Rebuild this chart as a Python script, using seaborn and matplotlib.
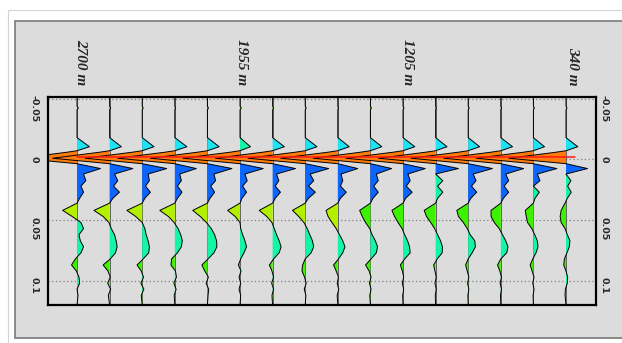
import numpy as np
import pandas as pd
import matplotlib
matplotlib.use('Agg')
import matplotlib.pyplot as plt
import seaborn as sns
from matplotlib.patches import Rectangle
from matplotlib.transforms import blended_transform_factory

# time samples (s) shared by all traces
times = [-0.052, -0.044, -0.0425, -0.041, -0.018, -0.0105, -0.0072, -0.006, -0.001,
         0.0035, 0.0075, 0.012, 0.0175, 0.022, 0.027, 0.032, 0.036, 0.042, 0.047,
         0.052, 0.057, 0.062, 0.067, 0.072, 0.077, 0.082, 0.087, 0.092, 0.097,
         0.102, 0.107, 0.112, 0.12]

# trace amplitudes, in units of trace spacing (trace 1 = far offset)
wiggles = [
    [0, 0, 0.04, 0, 0, 0.38, 0, -0.3, -1.75, 0, 0.72, 0.2, 0.27, 0.12, 0.2, 0.08, 0, -0.44, -0.15, 0.12, 0.2, 0.06, 0.1, 0.2, 0.12, -0.05, -0.17, -0.02, 0.06, 0.08, 0.0, 0.03, 0],
    [0, 0, 0.03, 0, 0, 0.36, 0, -0.3, -1.75, 0, 0.71, 0.15, 0.25, 0.12, 0.3, 0.1, 0, -0.48, -0.2, -0.02, 0.05, 0.15, 0.2, 0.23, 0.18, 0.02, -0.2, -0.05, 0.02, -0.06, 0.03, -0.04, 0],
    [0, 0, 0.03, 0, 0, 0.36, 0, -0.3, -1.75, 0, 0.75, 0.18, 0.22, 0.1, 0.25, 0.08, 0, -0.47, -0.2, 0.0, 0.08, 0.12, 0.18, 0.22, 0.2, 0.03, -0.16, -0.03, 0.04, -0.04, 0.05, -0.03, 0],
    [0, 0, 0.02, 0, 0, 0.37, 0, -0.3, -1.75, 0, 0.66, 0.15, 0.2, 0.08, 0.22, 0.08, 0, -0.46, -0.2, -0.02, 0.1, 0.18, 0.23, 0.2, 0.08, -0.1, -0.12, 0.02, 0.05, -0.03, 0.04, -0.02, 0],
    [0, 0, 0.03, 0, 0, 0.36, 0, -0.3, -1.75, 0, 0.75, 0.2, 0.25, 0.1, 0.22, 0.08, 0, -0.45, -0.22, -0.03, 0.12, 0.22, 0.28, 0.29, 0.2, 0.02, -0.17, -0.08, 0.03, -0.04, 0.04, 0.02, 0],
    [0, 0, 0.04, 0, 0, 0.32, 0, -0.3, -1.75, 0, 0.71, 0.15, 0.22, 0.08, 0.2, 0.06, 0, -0.38, -0.15, 0.0, 0.02, 0.08, 0.15, 0.2, 0.12, 0.02, -0.05, 0.03, -0.03, 0.02, -0.03, 0.02, 0],
    [0, 0, 0.03, 0, 0, 0.36, 0, -0.3, -1.75, 0, 0.7, 0.12, 0.19, 0.08, 0.24, 0.08, 0, -0.41, -0.18, -0.02, 0.05, 0.12, 0.2, 0.26, 0.2, 0.03, -0.1, -0.02, 0.03, -0.03, 0.03, -0.02, 0],
    [0, 0, 0.03, 0, 0, 0.36, 0, -0.3, -1.75, 0, 0.72, 0.15, 0.26, 0.1, 0.31, 0.1, 0, -0.39, -0.2, -0.04, 0.06, 0.14, 0.22, 0.26, 0.18, 0.0, -0.08, -0.1, -0.02, 0.03, -0.03, 0.02, 0],
    [0, 0, 0.02, 0, 0, 0.35, 0, -0.3, -1.75, 0, 0.61, 0.1, 0.15, 0.08, 0.26, 0.08, 0, -0.36, -0.3, -0.18, -0.05, 0.05, 0.15, 0.22, 0.15, 0.02, -0.13, -0.05, 0.02, -0.02, 0.03, -0.02, 0],
    [0, 0, 0.03, 0, 0, 0.35, 0, -0.3, -1.75, 0, 0.65, 0.18, 0.24, 0.1, 0.24, 0.08, 0, -0.33, -0.25, -0.15, -0.02, 0.05, 0.15, 0.22, 0.18, 0.02, -0.15, -0.04, 0.02, -0.03, 0.02, -0.02, 0],
    [0, 0, 0.03, 0, 0, 0.36, 0, -0.3, -1.75, 0, 0.68, 0.15, 0.22, 0.1, 0.28, 0.08, 0, -0.34, -0.26, -0.15, -0.03, 0.05, 0.14, 0.2, 0.22, 0.05, -0.08, -0.02, 0.02, -0.02, 0.02, -0.01, 0],
    [0, 0, 0.02, 0, 0, 0.35, 0, -0.3, -1.75, 0, 0.7, 0.0, 0.22, 0.06, 0.22, 0.06, 0, -0.35, -0.28, -0.15, -0.03, 0.06, 0.15, 0.21, 0.2, 0.05, -0.06, -0.02, 0.02, -0.02, 0.02, -0.01, 0],
    [0, 0, 0.03, 0, 0, 0.35, 0, -0.3, -1.75, 0, 0.74, 0.15, 0.24, 0.1, 0.26, 0.08, 0, -0.35, -0.3, -0.15, -0.03, 0.06, 0.2, 0.22, 0.12, 0.0, -0.08, -0.03, 0.02, -0.02, 0.02, -0.01, 0],
    [0, 0, 0.02, 0, 0, 0.36, 0, -0.3, -1.75, 0, 0.7, 0.15, 0.24, 0.1, 0.24, 0.08, 0, -0.3, -0.3, -0.2, -0.05, 0.05, 0.15, 0.22, 0.18, 0.0, -0.1, -0.03, 0.02, -0.02, 0.02, -0.01, 0],
    [0, 0, 0.03, 0, 0, 0.34, 0, -0.3, -1.75, 0, 0.72, 0.12, 0.2, 0.0, 0.18, 0.05, 0, -0.25, -0.22, -0.18, -0.05, 0.04, 0.12, 0.14, 0.08, -0.02, -0.1, -0.04, 0.02, -0.02, 0.02, -0.01, 0],
    [0, 0, 0.03, 0, 0, 0.36, 0, -0.3, -1.75, 0, 0.66, 0.0, 0.15, 0.05, 0.16, 0.04, -0.03, -0.15, -0.18, -0.15, -0.03, 0.04, 0.12, 0.1, 0.03, -0.05, -0.07, 0.0, 0.05, 0.04, -0.02, -0.03, 0],
]

# time where the blue first-arrival colouring gives way to teal, per trace
blue_end = [0.036] * 11 + [0.012, 0.036, 0.036, 0.022, 0.012]

trace_labels = ['2700 m', '1955 m', '1205 m', '340 m']
label_pos = [1.1, 6.06, 11.15, 16.2]
time_ticks = [-0.05, 0, 0.05, 0.1]
time_tick_labels = ['-0.05', '0', '0.05', '0.1']

CYAN = '#1ee3f2'
ORANGE = '#ff7b0a'
BLUE = '#0a66ff'
CHART = '#b2f000'
GREEN = '#3cf200'
TEAL = '#14f5a5'

sns.set_style('white')

fig = plt.figure(figsize=(6.22, 3.43), dpi=100)
fig.patch.set_facecolor('white')
# page frame and grey panel
fig.patches.append(Rectangle((0.0129, -0.05), 1.1, 1.0208, transform=fig.transFigure,
                             facecolor='white', edgecolor='#d4d4d4', lw=0.8, zorder=-3))
fig.patches.append(Rectangle((0.0241, 0.0146), 1.1, 0.9242, transform=fig.transFigure,
                             facecolor='#dcdcdc', edgecolor='#7a7a7a', lw=1.2, zorder=-2))

ax = fig.add_axes([0.0772, 0.1108, 0.881, 0.6064])
ax.set_facecolor('#dcdcdc')

t = np.array(times)
positions = np.arange(1, len(wiggles) + 1)

for i, (pos, amps) in enumerate(zip(positions, wiggles)):
    a = np.array(amps)
    x = pos + a
    pos_m = a >= 0
    neg_m = a <= 0
    pre_col = TEAL if i == 5 else CYAN
    mid_col = CHART if i < 9 else GREEN
    fills = [
        (pos_m & (t < -0.03), GREEN),
        (pos_m & (t > -0.03) & (t < -0.005), pre_col),
        (neg_m & (t < 0.02), ORANGE),
        (pos_m & (t > -0.002) & (t <= blue_end[i]), BLUE),
        (pos_m & (t >= blue_end[i]), TEAL),
        (neg_m & (t >= 0.02) & (t <= 0.058), mid_col),
        (neg_m & (t >= 0.058), GREEN),
    ]
    ax.axvline(pos, color='#505050', lw=0.6, zorder=1)
    for mask, col in fills:
        ax.fill_betweenx(t, pos, x, where=mask, interpolate=True,
                         facecolor=col, edgecolor='none', lw=0, zorder=2)
    df = pd.DataFrame({'x': x, 't': t})
    sns.lineplot(data=df, x='x', y='t', orient='y', sort=False, estimator=None,
                 color='black', lw=0.7, ax=ax, zorder=3)

# red marker through the direct-arrival troughs
t_tip = times[int(np.argmin(wiggles[0]))]
ax.plot([positions[0], positions[-1] + 0.27], [t_tip - 0.0008] * 2,
        color='#ff1a1a', lw=1.1, zorder=3.5)

ax.set_xlim(0.11, 16.92)
ax.set_ylim(0.12, -0.0515)
ax.set_xlabel('')
ax.set_ylabel('')
ax.set_xticks([])
ax.set_yticks(time_ticks)
ax.set_yticklabels(time_tick_labels, rotation=270, fontsize=6.8, fontweight='bold',
                   family='DejaVu Sans')
ax.tick_params(axis='y', length=0, pad=7)
ax.yaxis.grid(True, linestyle=(0, (1, 2)), color='#808080', lw=0.9, zorder=0.5)
ax.xaxis.grid(False)
ax.set_axisbelow(True)
for sp in ax.spines.values():
    sp.set_color('black')
    sp.set_linewidth(1.6)
    sp.set_zorder(5)

sec = ax.secondary_yaxis('right')
sec.set_yticks(time_ticks)
sec.set_yticklabels(time_tick_labels, rotation=270, fontsize=6.8, fontweight='bold',
                    family='DejaVu Sans')
sec.tick_params(axis='y', length=0, pad=2.5)
sec.spines['right'].set_visible(False)

trans = blended_transform_factory(ax.transData, ax.transAxes)
for lab, xp in zip(trace_labels, label_pos):
    ax.text(xp, 1.055, lab, transform=trans, rotation=270, ha='center', va='bottom',
            fontsize=11, fontstyle='italic', fontweight='bold', family='Liberation Serif',
            clip_on=False)

fig.savefig('out.png', dpi=100)
